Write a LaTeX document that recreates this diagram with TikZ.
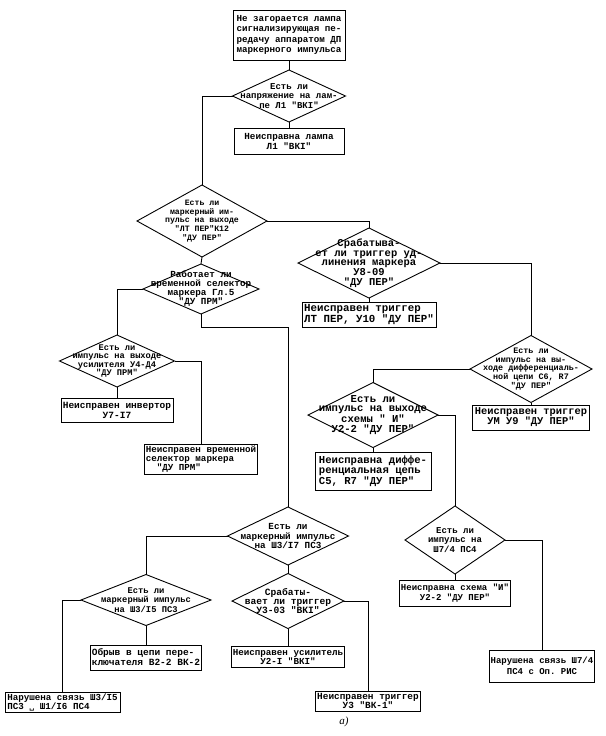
\documentclass[tikz,border=0pt]{standalone}
\usepackage{fontspec}
\setmonofont{Liberation Mono}
\newfontfamily\lblfont{Liberation Serif}
\newfontfamily\symfont{DejaVu Sans}
\usetikzlibrary{shapes.geometric}
\newcommand{\fz}[2]{\ttfamily\fontsize{#1pt}{#2pt}\selectfont\bfseries}
\begin{document}
\begin{tikzpicture}[x=1pt,y=-1pt,line width=0.9pt,
  box/.style={draw,rectangle,inner sep=1.5pt,outer sep=0pt,align=center},
  lbox/.style={box,align=left},
  dia/.style={draw,diamond,inner sep=0pt,outer sep=0pt},
  dtext/.style={align=center,inner sep=0pt},
  link/.style={draw,line width=0.9pt}]
\useasboundingbox (0,0) rectangle (605,736);

% top
\node[lbox,minimum width=112pt,minimum height=50pt,font={\fz{9.2}{10.5}}] (start) at (289,35) {Не загорается лампа\\сигнализирующая пе-\\редачу аппаратом ДП\\маркерного импульса};
\node[dia,minimum width=113pt,minimum height=52pt] (d1) at (289,96) {};
\node[dtext,font={\fz{9}{9.5}}] (d1t) at (d1) {Есть ли\\напряжение на лам-\\пе Л1 "ВКI"};
\node[box,minimum width=110pt,minimum height=26pt,font={\fz{9.3}{10}}] (b1) at (289,141) {Неисправна лампа\\Л1 "ВКI"};

% D2
\node[dia,minimum width=130pt,minimum height=72pt] (d2) at (202,221) {};
\node[dtext,font={\fz{8.2}{8.8}}] (d2t) at (d2) {Есть ли\\маркерный им-\\пульс на выходе\\"ЛТ ПЕР"К12\\"ДУ ПЕР"};

% right branch
\node[dia,minimum width=142pt,minimum height=70pt] (d3) at (369,263) {};
\node[dtext,font={\fz{10.5}{9.6}}] (d3t) at (d3) {Срабатыва-\\ет ли триггер уд-\\линения маркера\\У8-09\\"ДУ ПЕР"};
\node[lbox,minimum width=134pt,minimum height=25pt,font={\fz{10.8}{10.6}}] (b3) at (369,314.5) {Неисправен триггер\\ЛТ ПЕР, У10 "ДУ ПЕР"};

\node[dia,minimum width=122pt,minimum height=67pt] (d4) at (531,369) {};
\node[dtext,font={\fz{8.4}{8.8}}] (d4t) at (d4) {Есть ли\\импульс на вы-\\ходе дифференциаль-\\ной цепи С6, R7\\"ДУ ПЕР"};
\node[box,minimum width=117pt,minimum height=25pt,font={\fz{10.4}{10}}] (b4) at (531,417.5) {Неисправен триггер\\УМ У9 "ДУ ПЕР"};

\node[dia,minimum width=130pt,minimum height=65pt] (d5) at (373,415) {};
\node[dtext,font={\fz{10.6}{9.6}}] (d5t) at (d5) {Есть ли\\импульс на выходе\\схемы " И"\\У2-2 "ДУ ПЕР"};
\node[lbox,minimum width=116pt,minimum height=38pt,font={\fz{10.6}{10.4}}] (b5) at (373,471) {Неисправна диффе-\\ренциальная цепь\\С5, R7 "ДУ ПЕР"};

\node[dia,minimum width=100pt,minimum height=68pt] (d6) at (455,540) {};
\node[dtext,font={\fz{9}{9.5}}] (d6t) at (d6) {Есть ли\\импульс на\\Ш7/4 ПС4};
\node[box,minimum width=110pt,minimum height=26pt,font={\fz{9}{10}}] (b6) at (455,593) {Неисправна схема "И"\\У2-2 "ДУ ПЕР"};
\node[box,minimum width=105pt,minimum height=32pt,font={\fz{9}{10.5}}] (b7) at (542,666) {Нарушена связь Ш7/4\\ПС4 с Оп. РИС};

% left branch
\node[dia,minimum width=116pt,minimum height=50pt] (d7) at (201,289) {};
\node[dtext,font={\fz{9.3}{9}}] (d7t) at (d7) {Работает ли\\временной селектор\\маркера Гл.5\\"ДУ ПРМ"};

\node[dia,minimum width=115pt,minimum height=52pt] (d9) at (117,361) {};
\node[dtext,font={\fz{8.7}{8.6}}] (d9t) at (d9) {Есть ли\\импульс на выходе\\усилителя У4-Д4\\"ДУ ПРМ"};
\node[box,minimum width=112pt,minimum height=24pt,font={\fz{9.5}{10}}] (b9) at (117,410) {Неисправен инвертор\\У7-I7};
\node[lbox,minimum width=112pt,minimum height=25pt,font={\fz{9.2}{8.4}}] (b10) at (201,459.5) {Неисправен временной\\селектор маркера\\\ \ "ДУ ПРМ"};

\coordinate (k1) at (288,327);
\node[dia,minimum width=121pt,minimum height=58pt] (d8) at (288,536) {};
\node[dtext,font={\fz{9.3}{9.5}}] (d8t) at (d8) {Есть ли\\маркерный импульс\\на Ш3/I7 ПС3};

\node[dia,minimum width=130pt,minimum height=51pt] (d10) at (146,600) {};
\node[dtext,font={\fz{8.8}{9.2}}] (d10t) at (d10) {Есть ли\\маркерный импульс\\на Ш3/I5 ПС3};
\node[lbox,minimum width=115pt,minimum height=19pt,font={\fz{9.2}{7.6}}] (b11) at (62.5,702.5) {Нарушена связь Ш3/I5\\ПС3 {\symfont\fontsize{7pt}{7pt}\selectfont ␣} Ш1/I6 ПС4};
\node[lbox,minimum width=110pt,minimum height=25pt,font={\fz{9.5}{10}}] (b12) at (146,657.5) {Обрыв в цепи пере-\\ключателя В2-2 ВК-2};

\node[dia,minimum width=112pt,minimum height=55pt] (d11) at (288,601) {};
\node[dtext,font={\fz{9.6}{9.4}}] (d11t) at (d11) {Срабаты-\\вает ли триггер\\У3-03 "ВКI"};
\node[box,minimum width=111pt,minimum height=21pt,font={\fz{9.2}{8.4}}] (b13) at (288,657) {Неисправен усилитель\\У2-I "ВКI"};
\node[box,minimum width=104pt,minimum height=20pt,font={\fz{9.4}{8.4}}] (b14) at (368,701) {Неисправен триггер\\У3 "ВК-1"};

\node[inner sep=0pt,font={\lblfont\itshape\fontsize{11pt}{12pt}\selectfont}] (lbl) at (344,722) {а)};

% connectors
\draw[link] (start.south) -- (d1.north);
\draw[link] (d1.south) -- (b1.north);
\draw[link] (d1.west) -| (d2.north);
\draw[link] (d2.east) -| (d3.north);
\draw[link] (d3.south) -- (b3.north);
\draw[link] (d3.east) -| (d4.north);
\draw[link] (d4.south) -- (b4.north);
\draw[link] (d4.west) -| (d5.north);
\draw[link] (d5.south) -- (b5.north);
\draw[link] (d5.east) -| (d6.north);
\draw[link] (d6.south) -- (b6.north);
\draw[link] (d6.east) -| (b7.north);
\draw[link] (d2.south) -- (d7.north);
\draw[link] (d7.west) -| (d9.north);
\draw[link] (d9.south) -- (b9.north);
\draw[link] (d9.east) -| (b10.north);
\draw[link] (d7.south) |- (k1) -- (d8.north);
\draw[link] (d8.west) -| (d10.north);
\draw[link] (d8.south) -- (d11.north);
\draw[link] (d10.west) -| (b11.north);
\draw[link] (d10.south) -- (b12.north);
\draw[link] (d11.south) -- (b13.north);
\draw[link] (d11.east) -| (b14.north);
\end{tikzpicture}
\end{document}
